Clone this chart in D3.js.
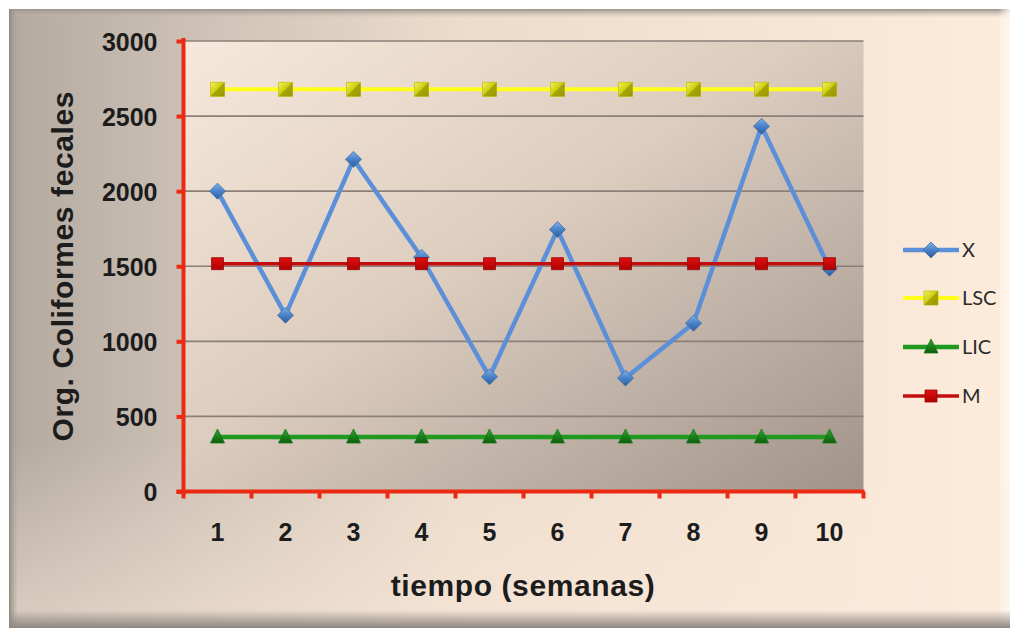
<!DOCTYPE html>
<html>
<head>
<meta charset="utf-8">
<script src="https://cdn.jsdelivr.net/npm/d3@7"></script>
<style>
  html, body { margin: 0; padding: 0; background: #ffffff; }
  svg { display: block; }
</style>
</head>
<body>
<svg id="chart" width="1016" height="630"></svg>
<script>
// Weekly fecal coliform counts with control limits
const weeks = ["1", "2", "3", "4", "5", "6", "7", "8", "9", "10"];
const xValues   = [2000, 1174, 2212, 1560, 764, 1744, 755, 1121, 2432, 1487];
const lscValues = [2678, 2678, 2678, 2678, 2678, 2678, 2678, 2678, 2678, 2678];
const licValues = [363, 363, 363, 363, 363, 363, 363, 363, 363, 363];
const mValues   = [1517, 1517, 1517, 1517, 1517, 1517, 1517, 1517, 1517, 1517];
const yTicks = [0, 500, 1000, 1500, 2000, 2500, 3000];
const seriesNames = ["X", "LSC", "LIC", "M"];

const svg = d3.select("#chart");
const defs = svg.append("defs");

function linGrad(id, stops, x1, y1, x2, y2) {
  const g = defs.append("linearGradient").attr("id", id)
    .attr("x1", x1).attr("y1", y1).attr("x2", x2).attr("y2", y2);
  stops.forEach(s => g.append("stop").attr("offset", s[0]).attr("stop-color", s[1]).attr("stop-opacity", s[2] == null ? 1 : s[2]));
  return g;
}

// Frame background
linGrad("bgH", [[0, "#b3a99f"], [0.2, "#cfc3b7"], [0.45, "#ecdccc"], [1, "#fdecdc"]], 0, 0, 1, 0);
linGrad("bgV", [[0, "#ffffff", 0], [0.7, "#fbeadb", 0], [1, "#fbeadb", 0.55]], 0, 0, 0, 1);
linGrad("bevelTop", [[0, "#9b928a"], [1, "#c9beb3", 0]], 0, 0, 0, 1);
linGrad("bevelBottom", [[0, "#8e8680", 0], [1, "#8e8680"]], 0, 0, 0, 1);
linGrad("bevelLeft", [[0, "#8f8780"], [1, "#b0a69d", 0]], 0, 0, 1, 0);
linGrad("bevelRight", [[0, "#ffffff", 0], [1, "#fff6ee", 0.9]], 0, 0, 1, 0);

// Plot area fill
linGrad("plotBg", [[0, "#f6e8da"], [0.45, "#dccdbf"], [1, "#a0938a"]], 0, 0, 1, 1);

// Marker fills
linGrad("mkBlue", [[0, "#7fb0ea"], [0.5, "#4a82c8"], [1, "#2a5d9e"]], 0, 0, 0, 1);
linGrad("mkYellow", [[0, "#f4f25a"], [0.5, "#cccc10"], [1, "#8f8d00"]], 0, 0, 1, 1);
linGrad("mkGreen", [[0, "#2fa82f"], [1, "#0d5e0d"]], 0, 0, 0, 1);
linGrad("mkRed", [[0, "#e01010"], [1, "#b00000"]], 0, 0, 0, 1);

const frame = { x: 9, y: 9, w: 1001, h: 619 };
svg.append("rect").attr("x", frame.x).attr("y", frame.y).attr("width", frame.w).attr("height", frame.h).attr("fill", "url(#bgH)");
svg.append("rect").attr("x", frame.x).attr("y", frame.y).attr("width", frame.w).attr("height", frame.h).attr("fill", "url(#bgV)");
svg.append("rect").attr("x", frame.x).attr("y", frame.y).attr("width", frame.w).attr("height", 9).attr("fill", "url(#bevelTop)");
svg.append("rect").attr("x", frame.x).attr("y", frame.y).attr("width", 9).attr("height", frame.h).attr("fill", "url(#bevelLeft)");
svg.append("rect").attr("x", frame.x + frame.w - 12).attr("y", frame.y).attr("width", 12).attr("height", frame.h).attr("fill", "url(#bevelRight)");
svg.append("rect").attr("x", frame.x).attr("y", frame.y + frame.h - 18).attr("width", frame.w).attr("height", 18).attr("fill", "url(#bevelBottom)");

// Scales
const plot = { left: 183.5, right: 863.5, top: 41, bottom: 491.5 };
const x = d3.scaleBand().domain(weeks).range([plot.left, plot.right]);
const cx = d => x(d) + x.bandwidth() / 2;
const y = d3.scaleLinear().domain([0, 3000]).range([plot.bottom, plot.top]);

svg.append("rect")
  .attr("x", plot.left).attr("y", plot.top)
  .attr("width", plot.right - plot.left).attr("height", plot.bottom - plot.top)
  .attr("fill", "url(#plotBg)");

// Horizontal gridlines
svg.append("g").selectAll("line").data(yTicks.filter(t => t > 0)).join("line")
  .attr("x1", plot.left).attr("x2", plot.right)
  .attr("y1", d => y(d)).attr("y2", d => y(d))
  .attr("stroke", "#8a8078").attr("stroke-width", 1.6);

const red = "#ec2a14";
const labelFont = "'Liberation Sans', Arial, sans-serif";

// Y axis
const yAxis = svg.append("g").attr("transform", `translate(${plot.left},0)`)
  .call(d3.axisLeft(y).tickValues(yTicks).tickFormat(d3.format("d"))
    .tickSize(7).tickPadding(19).tickSizeOuter(0));
yAxis.select(".domain").attr("stroke", red).attr("stroke-width", 4)
  .attr("d", `M0,${plot.top - 3}V${plot.bottom + 3}`);
yAxis.selectAll(".tick line").attr("stroke", red).attr("stroke-width", 4);
yAxis.selectAll(".tick text")
  .attr("fill", "#1c1c1c").style("font-family", labelFont).style("font-weight", "bold").style("font-size", "25px")
  .attr("dy", "0.36em");

// X axis: labels at band centres, ticks at band edges
const xAxis = svg.append("g").attr("transform", `translate(0,${plot.bottom})`)
  .call(d3.axisBottom(x).tickSize(0).tickPadding(32));
xAxis.select(".domain").attr("stroke", red).attr("stroke-width", 4)
  .attr("d", `M${plot.left - 7},0H${plot.right + 1}`);
xAxis.selectAll(".tick text")
  .attr("fill", "#1c1c1c").style("font-family", labelFont).style("font-weight", "bold").style("font-size", "25px");
const edges = weeks.map(w => x(w)).concat([x.range()[1]]);
xAxis.append("g").selectAll("line").data(edges).join("line")
  .attr("x1", d => d).attr("x2", d => d).attr("y1", 0).attr("y2", 7)
  .attr("stroke", red).attr("stroke-width", 4);

// Axis titles
svg.append("text")
  .attr("transform", `translate(73,${(plot.top + plot.bottom) / 2}) rotate(-90)`)
  .attr("text-anchor", "middle")
  .style("font-family", labelFont).style("font-weight", "bold").style("font-size", "30px")
  .style("letter-spacing", "0.6px")
  .attr("fill", "#1c1c1c")
  .text("Org. Coliformes fecales");

svg.append("text")
  .attr("x", 523).attr("y", 596)
  .attr("text-anchor", "middle")
  .style("font-family", labelFont).style("font-weight", "bold").style("font-size", "30px")
  .style("letter-spacing", "0.6px")
  .attr("fill", "#1c1c1c")
  .text("tiempo (semanas)");

// Series
const series = [
  { name: "X",   values: xValues,   color: "#5b90d8", width: 4.5, marker: "diamond", fill: "url(#mkBlue)",   size: 8 },
  { name: "LSC", values: lscValues, color: "#ffff1a", width: 4,   marker: "square",  fill: "url(#mkYellow)", size: 7 },
  { name: "LIC", values: licValues, color: "#1f9a1f", width: 4.5, marker: "triangle",fill: "url(#mkGreen)",  size: 7 },
  { name: "M",   values: mValues,   color: "#c30c0c", width: 3.5, marker: "square",  fill: "url(#mkRed)",    size: 6 }
];

function markerPath(type, s) {
  if (type === "diamond") return `M0,${-s}L${s},0L0,${s}L${-s},0Z`;
  if (type === "triangle") return `M0,${-s - 1}L${s},${s - 1}L${-s},${s - 1}Z`;
  return `M${-s},${-s}H${s}V${s}H${-s}Z`;
}

function drawMarker(g, s, px, py) {
  g.append("path").attr("transform", `translate(${px},${py})`)
    .attr("d", markerPath(s.marker, s.size))
    .attr("fill", s.fill)
    .attr("stroke", d3.color(s.color).darker(0.8)).attr("stroke-width", 0.8);
  if (s.name === "LSC") {
    // bevel diagonal on the yellow squares
    g.append("path").attr("transform", `translate(${px},${py})`)
      .attr("d", `M${-s.size},${s.size}L${s.size},${-s.size}V${s.size}Z`)
      .attr("fill", "#9c9a00").attr("opacity", 0.75);
  }
}

const line = d3.line().x((d, i) => cx(weeks[i])).y(d => y(d));

series.forEach(s => {
  const g = svg.append("g");
  g.append("path").attr("d", line(s.values)).attr("fill", "none")
    .attr("stroke", s.color).attr("stroke-width", s.width).attr("stroke-linejoin", "round");
  s.values.forEach((v, i) => drawMarker(g, s, cx(weeks[i]), y(v)));
});

// Legend
const legendRows = [250, 298, 347, 396];
const legend = svg.append("g");
series.forEach((s, i) => {
  const ly = legendRows[i];
  legend.append("line").attr("x1", 903).attr("x2", 959).attr("y1", ly).attr("y2", ly)
    .attr("stroke", s.color).attr("stroke-width", s.width);
  drawMarker(legend, s, 931, ly);
  legend.append("text").attr("x", 962).attr("y", ly).attr("dy", "0.35em")
    .style("font-family", "Lato, 'Open Sans', sans-serif").style("font-size", "20px")
    .attr("fill", "#2a2a2a").text(seriesNames[i]);
});
</script>
</body>
</html>
